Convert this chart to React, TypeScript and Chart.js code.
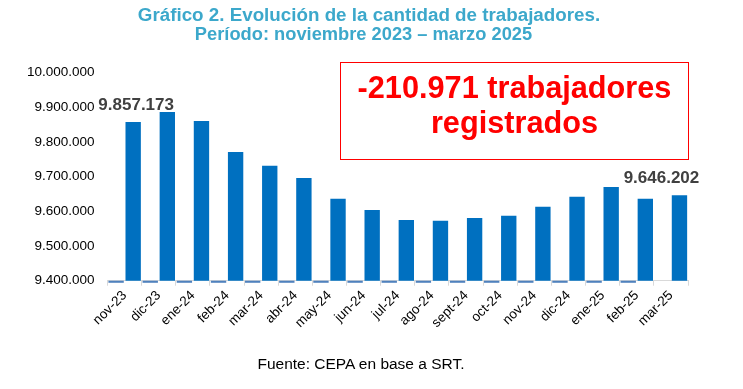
import React, { useEffect, useRef } from "react";
import { Chart, registerables } from "chart.js";

Chart.register(...registerables);

const categories = [
  "nov-23", "dic-23", "ene-24", "feb-24", "mar-24", "abr-24", "may-24", "jun-24",
  "jul-24", "ago-24", "sept-24", "oct-24", "nov-24", "dic-24", "ene-25", "feb-25", "mar-25",
];

const workers = [
  9857173, 9886000, 9860000, 9771000, 9731000, 9696000, 9636000, 9604000,
  9575000, 9573000, 9581000, 9587000, 9613000, 9642000, 9670000, 9636000, 9646202,
];

// small marks sitting just under the axis (low, high)
const baselineMarks: ([number, number] | null)[] = [
  [9394000, 9400000], [9394000, 9400000], [9394000, 9400000], [9394000, 9400000],
  [9394000, 9400000], [9394000, 9400000], [9394000, 9400000], [9394000, 9400000],
  [9394000, 9400000], [9394000, 9400000], [9394000, 9400000], [9394000, 9400000],
  [9394000, 9400000], [9394000, 9400000], [9394000, 9400000], [9394000, 9400000],
  null,
];

const yMin = 9400000;
const yMax = 10000000;
const yStep = 100000;

const labelledIndexes = [0, 16];

const FONT = 'Arial, "Liberation Sans", sans-serif';

function fmt(n: number): string {
  return String(Math.round(n)).replace(/\B(?=(\d{3})+(?!\d))/g, ".");
}

const labelOffsets: Record<number, { dx: number; dy: number }> = {
  0: { dx: 3, dy: -17 },
  16: { dx: -18, dy: -17 },
};

const valueLabelPlugin = {
  id: "valueLabels",
  afterDatasetsDraw(chart: any) {
    const meta = chart.getDatasetMeta(1);
    const ctx = chart.ctx;
    ctx.save();
    ctx.font = `bold 17px ${FONT}`;
    ctx.fillStyle = "#404040";
    ctx.textAlign = "center";
    ctx.textBaseline = "middle";
    labelledIndexes.forEach((i) => {
      const el = meta.data[i];
      if (!el) return;
      const off = labelOffsets[i] || { dx: 0, dy: -17 };
      ctx.fillText(fmt(workers[i]), el.x + off.dx, el.y + off.dy);
    });
    ctx.restore();
  },
};

export default function App() {
  const canvasRef = useRef<HTMLCanvasElement | null>(null);

  useEffect(() => {
    if (!canvasRef.current) return;
    const chart = new Chart(canvasRef.current, {
      type: "bar",
      data: {
        labels: categories,
        datasets: [
          {
            label: "base",
            data: baselineMarks as any,
            backgroundColor: "#4F81BD",
            clip: false as any,
            barPercentage: 0.9,
            categoryPercentage: 1,
          },
          {
            label: "Trabajadores",
            data: workers,
            backgroundColor: "#0070C0",
            barPercentage: 0.9,
            categoryPercentage: 1,
          },
        ],
      },
      options: {
        responsive: false,
        animation: false,
        layout: { padding: { left: 22, right: 55, top: 72.5, bottom: 56 } },
        plugins: {
          legend: { display: false },
          tooltip: { enabled: false },
          title: { display: false },
        },
        scales: {
          x: {
            grid: {
              display: true,
              drawOnChartArea: false,
              drawTicks: true,
              tickLength: 5,
              color: "#d9d9d9",
              offset: true,
            },
            border: { display: true, color: "#d9d9d9", width: 1 },
            ticks: {
              maxRotation: 45,
              minRotation: 45,
              autoSkip: false,
              padding: 2,
              color: "#000000",
              font: { family: FONT, size: 13.5 },
            },
          },
          y: {
            min: yMin,
            max: yMax,
            grid: { display: false },
            border: { display: false },
            ticks: {
              stepSize: yStep,
              padding: 5,
              color: "#000000",
              font: { family: FONT, size: 13.5 },
              callback: (v: any) => fmt(Number(v)),
            },
          },
        },
      },
      plugins: [valueLabelPlugin],
    });
    return () => chart.destroy();
  }, []);

  return (
    <div
      style={{
        position: "absolute",
        left: 0,
        top: 0,
        width: 743,
        height: 389,
        background: "#ffffff",
        fontFamily: FONT,
      }}
    >
      <canvas ref={canvasRef} width={743} height={389} style={{ position: "absolute", left: 0, top: 0 }} />
      <div
        style={{
          position: "absolute",
          left: 0,
          top: 5,
          width: 738,
          textAlign: "center",
          color: "#3CA8CB",
          fontWeight: "bold",
          fontSize: 18.8,
          lineHeight: "20px",
          whiteSpace: "nowrap",
        }}
      >
        Gráfico 2. Evolución de la cantidad de trabajadores.
      </div>
      <div
        style={{
          position: "absolute",
          left: 0,
          top: 24,
          width: 727,
          textAlign: "center",
          color: "#3CA8CB",
          fontWeight: "bold",
          fontSize: 18.3,
          lineHeight: "20px",
          whiteSpace: "nowrap",
        }}
      >
        Período: noviembre 2023 – marzo 2025
      </div>
      <div
        style={{
          position: "absolute",
          left: 340,
          top: 62,
          width: 347,
          height: 89,
          border: "1px solid #FF0000",
          textAlign: "center",
          color: "#FF0000",
          fontWeight: "bold",
          fontSize: 30.7,
          lineHeight: "35px",
          paddingTop: 7,
          boxSizing: "content-box",
          whiteSpace: "nowrap",
        }}
      >
        <div>-210.971 trabajadores</div>
        <div>registrados</div>
      </div>
      <div
        style={{
          position: "absolute",
          left: 0,
          top: 355,
          width: 722,
          textAlign: "center",
          color: "#000000",
          fontSize: 15.5,
          lineHeight: "18px",
          whiteSpace: "nowrap",
        }}
      >
        Fuente: CEPA en base a SRT.
      </div>
    </div>
  );
}
